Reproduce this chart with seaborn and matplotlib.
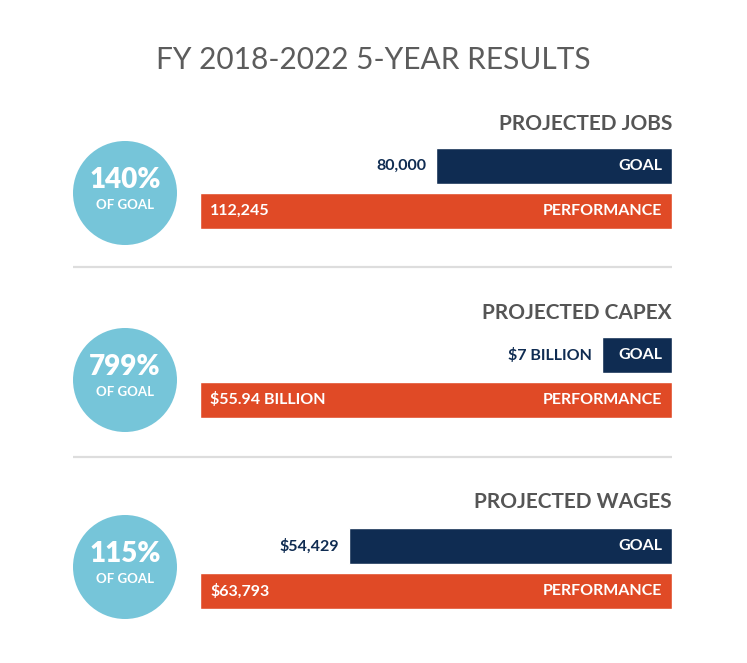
import matplotlib
matplotlib.use("Agg")
import matplotlib.pyplot as plt
from matplotlib.patches import Circle
import seaborn as sns
import pandas as pd

# ---- data ----
title = "FY 2018-2022 5-YEAR RESULTS"
sections = ["PROJECTED JOBS", "PROJECTED CAPEX", "PROJECTED WAGES"]
series = ["GOAL", "PERFORMANCE"]
goal_labels = ["80,000", "$7 BILLION", "$54,429"]
perf_labels = ["112,245", "$55.94 BILLION", "$63,793"]
pct_of_goal = ["140%", "799%", "115%"]
# drawn bar length, as % of the performance bar
goal_bar_len = [50.0, 14.8, 68.4]
perf_bar_len = [100.0, 100.0, 100.0]

NAVY = "#0f2c52"
ORANGE = "#e04a26"
CIRCLE = "#76c5d9"
HEAD = "#555555"
TITLE = "#5c5c5c"

sns.set_theme(style="white")
plt.rcParams["font.family"] = ["Lato", "DejaVu Sans"]

W, H = 747, 663
fig = plt.figure(figsize=(W / 100, H / 100), dpi=100)
bg = fig.add_axes([0, 0, 1, 1])
bg.set_xlim(0, W)
bg.set_ylim(H, 0)
bg.axis("off")

bg.text(373, 60, title, ha="center", va="center", fontsize=21.5,
        color=TITLE, fontweight="normal")

bar_tops = [148, 337, 528]
head_y = [124, 313, 502]
circle_y = [193, 380, 567]
sep_y = [267, 457]
x_left, x_right = 200, 672

for y in sep_y:
    bg.plot([73, 672], [y, y], color="#dddddd", lw=1.6, solid_capstyle="butt")

for i, sec in enumerate(sections):
    bg.text(x_right, head_y[i], sec, ha="right", va="center", fontsize=15,
            fontweight="bold", color=HEAD)
    bg.add_patch(Circle((125, circle_y[i]), 52, color=CIRCLE, lw=0))
    bg.text(125, circle_y[i] - 13, pct_of_goal[i], ha="center", va="center",
            fontsize=20, fontweight="heavy", color="white")
    bg.text(125, circle_y[i] + 12, "OF GOAL", ha="center", va="center",
            fontsize=9.5, fontweight="bold", color="white")

    top = bar_tops[i]
    ax = fig.add_axes([x_left / W, 1 - (top + 81) / H, (x_right - x_left) / W, 81 / H])
    df = pd.DataFrame({"series": series,
                       "length": [goal_bar_len[i], perf_bar_len[i]]})
    sns.barplot(data=df, y="series", x="length", hue="series",
                palette=[NAVY, ORANGE], width=0.8, orient="h", ax=ax,
                legend=False, saturation=1)
    ax.set_xlim(100, 0)
    ax.set_ylim(1.4, -0.4)
    ax.axis("off")
    pad = 100 * 10 / (x_right - x_left)
    ax.text(pad, 0, "GOAL", ha="right", va="center", fontsize=11.5,
            fontweight="bold", color="white")
    ax.text(goal_bar_len[i] + pad, 0, goal_labels[i], ha="right", va="center",
            fontsize=11.5, fontweight="bold", color=NAVY)
    ax.text(pad, 1, "PERFORMANCE", ha="right", va="center", fontsize=11.5,
            fontweight="bold", color="white")
    ax.text(perf_bar_len[i] - pad, 1, perf_labels[i], ha="left", va="center",
            fontsize=11.5, fontweight="bold", color="white")

fig.savefig("out.png", dpi=100, facecolor="white")
